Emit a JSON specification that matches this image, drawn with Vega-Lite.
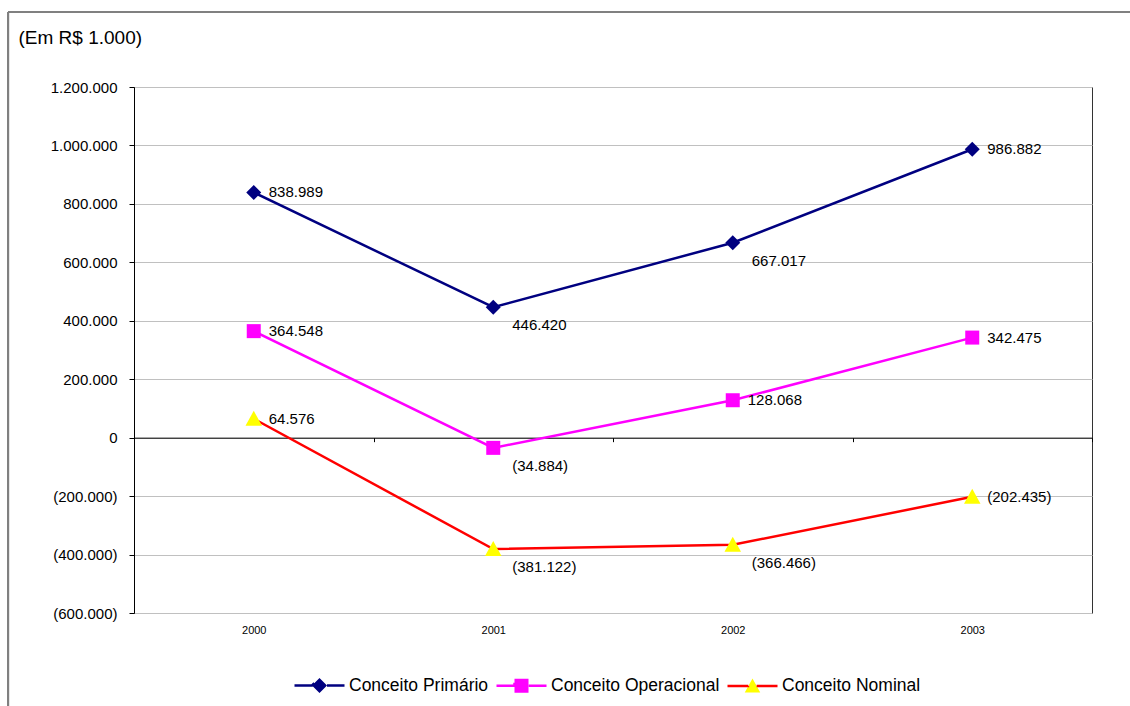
{
  "$schema": "https://vega.github.io/schema/vega-lite/v6.json",
  "autosize": "none",
  "width": 958,
  "height": 526,
  "padding": {"left": 134, "top": 87, "right": 38, "bottom": 93},
  "background": "white",
  "data": {
    "values": [
      {"ano": 2000, "serie": "Conceito Primário", "valor": 838989},
      {"ano": 2001, "serie": "Conceito Primário", "valor": 446420},
      {"ano": 2002, "serie": "Conceito Primário", "valor": 667017},
      {"ano": 2003, "serie": "Conceito Primário", "valor": 986882},
      {"ano": 2000, "serie": "Conceito Operacional", "valor": 364548},
      {"ano": 2001, "serie": "Conceito Operacional", "valor": -34884},
      {"ano": 2002, "serie": "Conceito Operacional", "valor": 128068},
      {"ano": 2003, "serie": "Conceito Operacional", "valor": 342475},
      {"ano": 2000, "serie": "Conceito Nominal", "valor": 64576},
      {"ano": 2001, "serie": "Conceito Nominal", "valor": -381122},
      {"ano": 2002, "serie": "Conceito Nominal", "valor": -366466},
      {"ano": 2003, "serie": "Conceito Nominal", "valor": -202435}
    ]
  },
  "resolve": {"axis": {"x": "independent"}},
  "layer": [
    {
      "mark": {"type": "line", "strokeWidth": 2.5},
      "encoding": {
        "x": {
          "field": "ano", "type": "quantitative",
          "scale": {"domain": [1999.5, 2003.5], "nice": false, "zero": false},
          "axis": {
            "orient": "bottom", "values": [2000, 2001, 2002, 2003], "format": "d",
            "title": null, "domain": false, "ticks": false, "tickSize": 0, "grid": false,
            "labelFontSize": 11, "labelColor": "black", "labelPadding": 11
          }
        },
        "y": {
          "field": "valor", "type": "quantitative",
          "scale": {"domain": [-600000, 1200000], "nice": false, "zero": false},
          "axis": {
            "values": [-600000, -400000, -200000, 0, 200000, 400000, 600000, 800000, 1000000, 1200000],
            "format": "(,d",
            "labelFontSize": 15, "labelColor": "black", "labelPadding": 12,
            "tickSize": 5, "tickColor": "black", "domainColor": "black",
            "grid": true, "gridColor": "#c0c0c0", "gridWidth": 1,
            "title": "(Em R$ 1.000)", "titleAngle": 0, "titleX": -116, "titleY": -50,
            "titleAlign": "left", "titleBaseline": "middle",
            "titleFontSize": 19, "titleFontWeight": "normal", "titleColor": "black"
          }
        },
        "color": {
          "field": "serie", "type": "nominal",
          "scale": {
            "domain": ["Conceito Primário", "Conceito Operacional", "Conceito Nominal"],
            "range": ["#000080", "#FF00FF", "#FF0000"]
          },
          "legend": {
            "orient": "none", "legendX": 159, "legendY": 572, "direction": "horizontal",
            "title": null, "padding": 0,
            "symbolSize": 2500, "symbolStrokeWidth": 2.5, "symbolDash": [20.9, 1000],
            "labelFontSize": 17.5, "labelColor": "black", "labelOffset": 3, "labelLimit": 400,
            "columnPadding": 2,
            "encode": {
              "symbols": {
                "update": {
                  "shape": {"signal": "datum.value == 'Conceito Primário' ? 'M-1,0L-0.3,0L0,-0.3L0.3,0L0,0.3L-0.3,0ZM0.3,0L1,0' : datum.value == 'Conceito Operacional' ? 'M-1,0L-0.28,0L-0.28,-0.28L0.28,-0.28L0.28,0.28L-0.28,0.28L-0.28,0ZM0.28,0L1,0' : 'M-1,0L-0.166,0L0,-0.3L0.31,0.26L-0.31,0.26L-0.166,0ZM0.166,0L1,0'"},
                  "fill": {"signal": "datum.value == 'Conceito Primário' ? '#000080' : datum.value == 'Conceito Operacional' ? '#FF00FF' : '#FFFF00'"},
                  "fillOpacity": {"value": 1}
                }
              }
            }
          }
        }
      }
    },
    {
      "transform": [{"filter": "datum.serie == 'Conceito Primário'"}],
      "mark": {"type": "point", "filled": true, "opacity": 1, "size": 2500, "strokeWidth": 0, "color": "#000080", "shape": "M0,-0.3L0.3,0L0,0.3L-0.3,0Z"},
      "encoding": {
        "x": {
          "field": "ano", "type": "quantitative",
          "scale": {"domain": [1999.5, 2003.5], "nice": false, "zero": false},
          "axis": {
            "orient": "bottom", "offset": -175.33, "values": [1999.5, 2000.5, 2001.5, 2002.5, 2003.5],
            "title": null, "labels": false, "grid": false,
            "domain": true, "domainColor": "black", "domainWidth": 1,
            "ticks": true, "tickSize": 4, "tickColor": "black"
          }
        },
        "y": {"field": "valor", "type": "quantitative", "scale": {"domain": [-600000, 1200000], "nice": false, "zero": false}}
      }
    },
    {
      "transform": [{"filter": "datum.serie == 'Conceito Operacional'"}],
      "mark": {"type": "point", "filled": true, "opacity": 1, "size": 2500, "strokeWidth": 0, "color": "#FF00FF", "shape": "M-0.28,-0.28L0.28,-0.28L0.28,0.28L-0.28,0.28Z"},
      "encoding": {
        "x": {"field": "ano", "type": "quantitative", "axis": null, "scale": {"domain": [1999.5, 2003.5], "nice": false, "zero": false}},
        "y": {"field": "valor", "type": "quantitative", "scale": {"domain": [-600000, 1200000], "nice": false, "zero": false}}
      }
    },
    {
      "transform": [{"filter": "datum.serie == 'Conceito Nominal'"}],
      "mark": {"type": "point", "filled": true, "opacity": 1, "size": 2500, "strokeWidth": 0, "color": "#FFFF00", "shape": "M0,-0.32L0.33,0.28L-0.33,0.28Z"},
      "encoding": {
        "x": {"field": "ano", "type": "quantitative", "axis": null, "scale": {"domain": [1999.5, 2003.5], "nice": false, "zero": false}},
        "y": {"field": "valor", "type": "quantitative", "scale": {"domain": [-600000, 1200000], "nice": false, "zero": false}}
      }
    },
    {
      "transform": [{"filter": "!(datum.ano == 2001 || (datum.ano == 2002 && datum.serie != 'Conceito Operacional'))"}],
      "mark": {"type": "text", "align": "left", "baseline": "middle", "dx": 15, "fontSize": 15, "color": "black"},
      "encoding": {
        "x": {"field": "ano", "type": "quantitative", "axis": null, "scale": {"domain": [1999.5, 2003.5], "nice": false, "zero": false}},
        "y": {"field": "valor", "type": "quantitative", "scale": {"domain": [-600000, 1200000], "nice": false, "zero": false}},
        "text": {"field": "valor", "type": "quantitative", "format": "(,d"}
      }
    },
    {
      "transform": [{"filter": "datum.ano == 2001 || (datum.ano == 2002 && datum.serie != 'Conceito Operacional')"}],
      "mark": {"type": "text", "align": "left", "baseline": "middle", "dx": 19, "dy": 18, "fontSize": 15, "color": "black"},
      "encoding": {
        "x": {"field": "ano", "type": "quantitative", "axis": null, "scale": {"domain": [1999.5, 2003.5], "nice": false, "zero": false}},
        "y": {"field": "valor", "type": "quantitative", "scale": {"domain": [-600000, 1200000], "nice": false, "zero": false}},
        "text": {"field": "valor", "type": "quantitative", "format": "(,d"}
      }
    },
    {
      "mark": {"type": "rule", "clip": false, "color": "#808080", "strokeWidth": 2},
      "encoding": {
        "x": {"datum": 1998.974, "type": "quantitative", "axis": null, "scale": {"domain": [1999.5, 2003.5], "nice": false, "zero": false}},
        "x2": {"datum": 2004.5},
        "y": {"datum": 1456654, "type": "quantitative", "scale": {"domain": [-600000, 1200000], "nice": false, "zero": false}}
      }
    },
    {
      "mark": {"type": "rule", "clip": false, "color": "#808080", "strokeWidth": 2},
      "encoding": {
        "x": {"datum": 1998.974, "type": "quantitative", "axis": null, "scale": {"domain": [1999.5, 2003.5], "nice": false, "zero": false}},
        "y": {"datum": 1456654, "type": "quantitative", "scale": {"domain": [-600000, 1200000], "nice": false, "zero": false}},
        "y2": {"datum": -1000000}
      }
    }
  ],
  "config": {
    "font": "Liberation Sans",
    "view": {"stroke": "#333333", "strokeWidth": 1},
    "locale": {
      "number": {"decimal": ",", "thousands": ".", "grouping": [3], "currency": ["R$ ", ""]}
    }
  }
}
